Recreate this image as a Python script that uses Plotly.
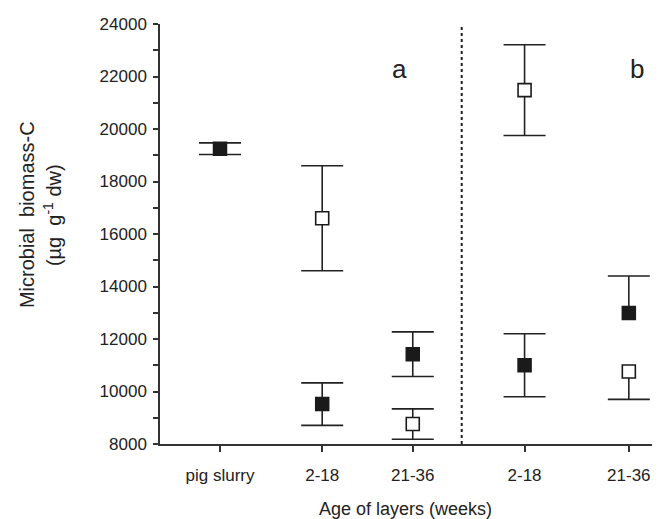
import plotly.graph_objects as go

# Category positions on the x axis (groups a and b)
tick_labels = ["pig slurry", "2-18", "21-36", "2-18", "21-36"]
tick_pos = [1.0, 2.0, 2.886, 3.98, 5.0]
divider_x = 3.365

# Filled squares
filled_x = [1.0, 2.0, 2.886, 3.98, 5.0]
filled_y = [19250, 9520, 11420, 11000, 12990]
filled_err_plus = [220, 810, 850, 1200, 1410]
filled_err_minus = [220, 810, 850, 1200, 0]

# Open squares
open_x = [2.0, 2.886, 3.98, 5.0]
open_y = [16600, 8760, 21480, 10760]
open_err_plus = [2000, 580, 1730, 0]
open_err_minus = [2000, 580, 1730, 1060]

FONT = "Liberation Sans, Arial, sans-serif"
INK = "#222222"
CAP_HALF = 21

# End caps only where an error bar exists (one-sided bars have no cap at the marker)
cap_x, cap_y = [], []
for xs, ys, ep, em in [(filled_x, filled_y, filled_err_plus, filled_err_minus),
                       (open_x, open_y, open_err_plus, open_err_minus)]:
    for x, y, p, m in zip(xs, ys, ep, em):
        if p > 0:
            cap_x.append(x); cap_y.append(y + p)
        if m > 0:
            cap_x.append(x); cap_y.append(y - m)

fig = go.Figure()

# caps: zero-length error bars draw just the cross-bar
fig.add_trace(go.Scatter(
    x=cap_x, y=cap_y, mode="markers", marker=dict(size=4, opacity=0),
    error_y=dict(type="data", array=[0] * len(cap_y), color=INK, thickness=1.6,
                 width=CAP_HALF),
    hoverinfo="skip", showlegend=False,
))

fig.add_trace(go.Scatter(
    x=filled_x, y=filled_y, mode="markers",
    marker=dict(symbol="square", size=13, color="#1a1a1a",
                line=dict(color="#1a1a1a", width=1.5)),
    error_y=dict(type="data", symmetric=False, array=filled_err_plus,
                 arrayminus=filled_err_minus, color=INK, thickness=1.6, width=0),
    showlegend=False,
))
fig.add_trace(go.Scatter(
    x=open_x, y=open_y, mode="markers",
    marker=dict(symbol="square", size=13, color="white",
                line=dict(color="#1a1a1a", width=1.6)),
    error_y=dict(type="data", symmetric=False, array=open_err_plus,
                 arrayminus=open_err_minus, color=INK, thickness=1.6, width=0),
    showlegend=False,
))

fig.add_shape(type="line", xref="x", yref="y", x0=divider_x, x1=divider_x,
              y0=8000, y1=24000, line=dict(color=INK, width=2, dash="dot"))

fig.add_annotation(x=2.76, y=22300, xref="x", yref="y", text="a", showarrow=False,
                   font=dict(family=FONT, size=26, color=INK))
fig.add_annotation(x=5.08, y=22300, xref="x", yref="y", text="b", showarrow=False,
                   font=dict(family=FONT, size=26, color=INK))

fig.add_annotation(x=-0.266, y=0.545, xref="paper", yref="paper",
                   text="Microbial  biomass-C", textangle=-90, showarrow=False,
                   xanchor="center", yanchor="middle",
                   font=dict(family=FONT, size=20, color=INK))
fig.add_annotation(x=-0.216, y=0.545, xref="paper", yref="paper",
                   text="(\u00b5g  g<sup>-1</sup> dw)", textangle=-90, showarrow=False,
                   xanchor="center", yanchor="middle",
                   font=dict(family=FONT, size=20, color=INK))
fig.add_annotation(x=0.49, y=-0.155, xref="paper", yref="paper",
                   text="Age of layers (weeks)", showarrow=False,
                   xanchor="center", yanchor="middle",
                   font=dict(family=FONT, size=18, color=INK))

fig.update_xaxes(range=[0.413, 5.305], tickmode="array", tickvals=tick_pos,
                 ticktext=tick_labels, ticks="outside", ticklen=6, tickwidth=1.5,
                 tickcolor="#333333", showline=True, linecolor="#333333", linewidth=1.5,
                 showgrid=False, zeroline=False,
                 tickfont=dict(family=FONT, size=17, color=INK), ticklabelstandoff=9)
fig.update_yaxes(range=[8000, 24000], tickmode="linear", tick0=8000, dtick=2000,
                 ticks="outside", ticklen=5, tickwidth=1.5, tickcolor="#333333",
                 minor=dict(ticks="outside", ticklen=5, dtick=1000, tickcolor="#333333",
                            tickwidth=1.5),
                 showline=True, linecolor="#333333", linewidth=1.5,
                 showgrid=False, zeroline=False, tickformat="d",
                 tickfont=dict(family=FONT, size=17, color=INK), ticklabelstandoff=3)

# The page adds an 8px body margin; size the figure so the plot area lands
# where the reference places it.
fig.update_layout(width=652, height=511, plot_bgcolor="white", paper_bgcolor="white",
                  margin=dict(l=152, r=0, t=16, b=75), showlegend=False)

fig.write_html("out.html")
